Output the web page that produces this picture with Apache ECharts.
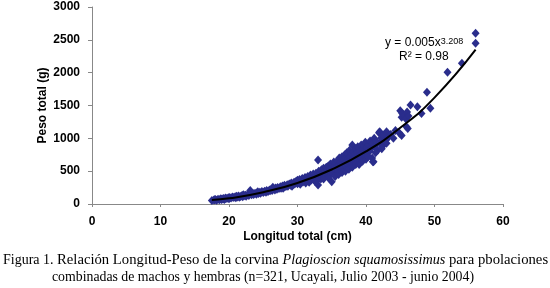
<!DOCTYPE html>
<html>
<head>
<meta charset="utf-8">
<title>Relación Longitud-Peso</title>
<script src="https://cdn.jsdelivr.net/npm/echarts@6.0.0/dist/echarts.min.js"></script>
<style>
  html, body { margin: 0; padding: 0; background: #fff; }
  #chart { width: 550px; height: 288px; }
</style>
</head>
<body>
<div id="chart"></div>
<script>
// longitud total (cm) de cada ejemplar
const lengthCm = [
  17.5, 17.8, 18.0, 18.2, 18.4, 18.6, 18.8, 19.0, 19.2, 19.3, 19.5, 19.7, 19.9, 20.0, 20.1, 18.9, 19.4, 17.9,
  20.3, 20.5, 20.7, 20.9, 21.0, 21.2, 21.4, 21.5, 21.7, 21.9, 22.0, 22.2, 22.4, 22.5, 22.7, 22.9, 23.0, 23.1,
  23.3, 23.5, 23.6, 23.8, 24.0, 24.1, 24.3, 24.5, 24.6, 24.8, 25.0, 24.2, 22.1, 21.1,
  25.2, 25.4, 25.5, 25.7, 25.9, 26.0, 26.2, 26.3, 26.5, 26.7, 26.8, 27.0, 27.1, 27.3, 27.5, 27.6, 27.8, 28.0,
  28.1, 28.3, 28.5, 28.6, 28.8, 29.0, 29.1, 29.3, 29.5, 29.6, 29.8, 30.0, 30.0, 26.4, 27.9, 29.2,
  30.2, 30.3, 30.4, 30.5, 30.7, 30.8, 31.0, 31.1, 31.2, 31.4, 31.5, 31.6, 31.8, 31.9, 32.0, 32.1, 32.3, 32.4,
  32.5, 32.6, 32.7, 32.8, 33.0, 33.0, 33.0, 33.1, 33.2, 33.3, 33.4, 33.5, 33.6, 33.7, 33.8, 33.9, 34.0, 34.1,
  34.2, 34.3, 34.4, 34.5, 34.6, 34.7, 34.8, 34.9, 35.0, 35.0, 35.1, 35.2, 35.3, 35.4,
  35.5, 35.6, 35.7, 35.8, 35.9, 36.0, 36.1, 36.2, 36.3, 36.4, 36.5, 36.6, 36.7, 36.8, 36.9, 37.0, 37.0, 37.1,
  37.2, 37.3, 37.4, 37.5, 37.6, 37.7, 37.8, 37.9, 38.0, 38.0, 38.1, 38.2, 38.3, 38.4, 38.5, 38.6, 38.7, 38.8,
  38.9, 39.0, 39.1, 39.2, 39.3, 39.4, 39.5, 39.6, 39.7, 39.8, 39.9, 40.0,
  35.5, 36.0, 36.5, 37.0, 37.5, 38.0, 38.5, 39.0, 39.5, 40.0, 34.5, 33.8, 32.9, 31.7,
  40.1, 40.2, 40.4, 40.5, 40.6, 40.8, 40.9, 41.0, 41.0, 41.1, 41.2, 41.3, 41.5, 41.7, 41.9, 42.0, 42.0, 42.2,
  42.4, 42.5, 42.7, 42.9, 43.0, 43.0, 43.3, 43.6, 44.0, 44.3, 44.9, 45.2, 40.3, 41.4, 42.3,
  45.0, 45.2, 45.3, 45.6, 45.8, 45.9, 46.0, 46.1, 46.2, 46.5, 47.5, 48.1, 48.9, 49.4, 51.9, 54.0, 56.0, 56.0
];

// peso total (g) correspondiente
const weightG = [
  55, 60, 70, 58, 72, 65, 80, 75, 85, 70, 90, 82, 95, 80, 100, 68, 78, 66,
  92, 105, 98, 112, 95, 108, 120, 102, 115, 128, 110, 125, 135, 118, 140, 130, 150, 205,
  140, 158, 145, 165, 150, 172, 160, 180, 165, 190, 175, 185, 140, 118,
  195, 180, 205, 190, 215, 200, 225, 205, 235, 215, 245, 225, 250, 235, 262, 240, 275, 255,
  285, 265, 295, 270, 305, 285, 320, 295, 330, 305, 345, 310, 360, 255, 240, 270,
  330, 375, 300, 345, 390, 335, 360, 405, 320, 375, 420, 350, 395, 440, 365, 410, 455, 380,
  430, 340, 470, 400, 445, 670, 290, 500, 420, 460, 380, 520, 440, 480, 545, 410, 500, 455,
  560, 520, 430, 580, 490, 540, 610, 470, 340, 555, 600, 510, 640, 575,
  530, 620, 560, 660, 500, 590, 700, 545, 640, 600, 720, 560, 670, 610, 750, 590, 700, 640,
  780, 600, 690, 650, 820, 720, 630, 760, 900, 680, 800, 700, 620, 760, 840, 690, 780, 870,
  720, 650, 810, 760, 900, 696, 830, 760, 880, 720, 940, 800,
  420, 450, 480, 500, 530, 560, 600, 600, 650, 680, 400, 380, 360, 330,
  860, 740, 900, 800, 960, 850, 700, 645, 920, 645, 1000, 880, 950, 820, 1086, 1100, 930, 1000,
  880, 1050, 960, 975, 924, 1100, 1020, 1060, 1000, 1120, 1077, 1045, 720, 780, 840,
  1420, 1320, 1380, 1350, 1300, 1177, 1400, 1150, 1340, 1508, 1482, 1380, 1700, 1457, 2006, 2143, 2447, 2600
];

// curva potencial ajustada
const trendLength = [17.5, 20, 25, 30, 35, 40, 45, 50, 56];
const trendWeight = [60, 86, 180, 320, 525, 800, 1160, 1620, 2350];

const captionLabel = 'Figura 1.';
const captionPartA = 'Relación Longitud-Peso de la corvina ';
const captionItalic = 'Plagioscion squamosissimus';
const captionPartB = ' para pbolaciones';
const captionLine2 = 'combinadas de machos y hembras (n=321, Ucayali, Julio 2003 - junio 2004)';

const points = lengthCm.map((l, i) => [l, weightG[i]]);
const trend = trendLength.map((l, i) => [l, trendWeight[i]]);

const chart = echarts.init(document.getElementById('chart'), null, { renderer: 'canvas' });

const axisFont = { color: '#000', fontFamily: 'Liberation Sans, Arial', fontSize: 12, fontWeight: 'bold' };
const axisLineStyle = { color: '#888', width: 1 };
const serif = 'Liberation Serif';

chart.setOption({
  animation: false,
  grid: { left: 92, right: 47, top: 7, bottom: 84 },
  xAxis: {
    type: 'value',
    min: 0,
    max: 60,
    interval: 10,
    name: 'Longitud total (cm)',
    nameLocation: 'middle',
    nameGap: 27,
    nameMoveOverlap: false,
    nameTextStyle: axisFont,
    axisLine: { show: true, lineStyle: axisLineStyle },
    axisTick: { show: true, length: 3, lineStyle: axisLineStyle },
    axisLabel: Object.assign({ margin: 12, formatter: (v) => String(v) }, axisFont),
    splitLine: { show: false }
  },
  yAxis: {
    type: 'value',
    min: 0,
    max: 3000,
    interval: 500,
    name: 'Peso total (g)',
    nameLocation: 'middle',
    nameGap: 43,
    nameMoveOverlap: false,
    nameTextStyle: axisFont,
    axisLine: { show: true, lineStyle: axisLineStyle },
    axisTick: { show: true, length: 4, lineStyle: axisLineStyle },
    axisLabel: Object.assign({ margin: 12, formatter: (v) => String(v) }, axisFont),
    splitLine: { show: false }
  },
  series: [
    {
      type: 'scatter',
      data: points,
      symbol: 'diamond',
      symbolSize: [8, 9],
      itemStyle: { color: '#2a2d8c', opacity: 1 },
      z: 2
    },
    {
      type: 'line',
      data: trend,
      smooth: true,
      showSymbol: false,
      lineStyle: { color: '#000', width: 2 },
      z: 3
    }
  ],
  graphic: [
    {
      type: 'text',
      left: 385,
      top: 37,
      style: {
        text: '{m|y = 0.005x}{s|3.208}',
        rich: {
          m: { fontFamily: 'Liberation Sans, Arial', fontSize: 12, fill: '#000', verticalAlign: 'bottom' },
          s: { fontFamily: 'Liberation Sans, Arial', fontSize: 9, fill: '#000', verticalAlign: 'top' }
        }
      }
    },
    {
      type: 'text',
      left: 399,
      top: 51,
      style: {
        text: 'R² = 0.98',
        fontFamily: 'Liberation Sans, Arial',
        fontSize: 12,
        fill: '#000'
      }
    },
    {
      type: 'text',
      left: 3,
      top: 253,
      style: { text: captionLabel, fontFamily: serif, fontSize: 14, fill: '#000' }
    },
    {
      type: 'text',
      left: 57,
      top: 253,
      style: {
        text: '{n|' + captionPartA + '}{i|' + captionItalic + '}{n|' + captionPartB + '}',
        rich: {
          n: { fontFamily: serif, fontSize: 14.7, fill: '#000' },
          i: { fontFamily: serif, fontSize: 14.2, fontStyle: 'italic', fill: '#000' }
        }
      }
    },
    {
      type: 'text',
      left: 52,
      top: 270,
      style: { text: captionLine2, fontFamily: serif, fontSize: 13.8, fill: '#000' }
    }
  ]
});
</script>
</body>
</html>
